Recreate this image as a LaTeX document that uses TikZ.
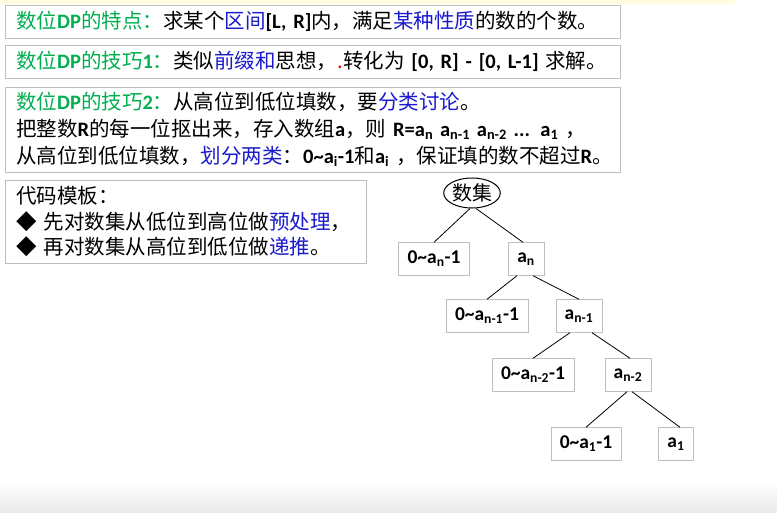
\documentclass[tikz,border=0pt]{standalone}
\usepackage{fontspec}
\setmainfont{Noto Sans CJK SC}
\newfontfamily\latinfont{Carlito}
\usepackage{xcolor}
\usepackage{tikz}
\usetikzlibrary{shapes.geometric}
\definecolor{titlegreen}{RGB}{0,176,80}
\definecolor{keyblue}{RGB}{25,25,205}
\definecolor{boxgray}{RGB}{190,190,190}
\newcommand{\en}[1]{{\latinfont\bfseries #1}}
\newcommand{\key}[1]{\textcolor{keyblue}{#1}}
\newcommand{\head}[1]{\textcolor{titlegreen}{#1}}

\begin{document}
\begin{tikzpicture}[x=1pt, y=-1pt,
  panel/.style={draw=boxgray, anchor=north west, inner xsep=11pt, inner ysep=0pt, align=left, font=\fontsize{20.5}{27}\selectfont},
  leaf/.style={draw=boxgray, rectangle, minimum height=33pt, inner xsep=9pt, font=\latinfont\bfseries\fontsize{19.5}{22}\selectfont},
  branch/.style={line width=0.8pt}]
  \useasboundingbox[fill=white] (0,0) rectangle (777,512);
  \fill[yellow!12] (0,0) rectangle (735,4);
  \shade[top color=white, bottom color=black!8] (0,482) rectangle (777,512);

  % text panels
  \node[panel, text width=593pt, minimum height=33pt] (feature) at (5,5) {\mbox{\head{数位\en{DP}的特点：}求某个\key{区间}\en{[L, R]}内，满足\key{某种性质}的数的个数。}};
  \node[panel, text width=593pt, minimum height=33pt] (trick1) at (5,45) {\mbox{\head{数位\en{DP}的技巧\en{1}：}类似\key{前缀和}思想，\textcolor{red}{.}转化为 \en{[0, R] - [0, L-1]} 求解。}};
  \node[panel, text width=593pt, minimum height=85pt] (trick2) at (5,87) {\mbox{\head{数位\en{DP}的技巧\en{2}：}从高位到低位填数，要\key{分类讨论}。}\\
    \mbox{把整数\en{R}的每一位抠出来，存入数组\en{a}，则 \en{R=a\textsubscript{n} a\textsubscript{n-1} a\textsubscript{n-2} ... a\textsubscript{1}} ，}\\
    \mbox{从高位到低位填数，\key{划分两类}：\en{0\textasciitilde a\textsubscript{i}-1}和\en{a\textsubscript{i}} ，保证填的数不超过\en{R}。}};
  \node[panel, text width=339pt, minimum height=83pt, font=\fontsize{20.5}{25.5}\selectfont] (template) at (5,180) {代码模板：\\
    \mbox{◆ 先对数集从低位到高位做\key{预处理}，}\\
    \mbox{◆ 再对数集从高位到低位做\key{递推}。}};

  % digit tree
  \node[ellipse, draw, line width=1pt, inner sep=0pt, minimum width=55pt, minimum height=30pt, font=\fontsize{20}{22}\selectfont] (digits) at (472,193) {数集};
  \node[leaf] (lowN) at (434,259) {0\textasciitilde a\textsubscript{n}-1};
  \node[leaf] (topN) at (526,259) {a\textsubscript{n}};
  \node[leaf] (lowN1) at (487,316) {0\textasciitilde a\textsubscript{n-1}-1};
  \node[leaf] (topN1) at (579,316) {a\textsubscript{n-1}};
  \node[leaf] (lowN2) at (533,375) {0\textasciitilde a\textsubscript{n-2}-1};
  \node[leaf] (topN2) at (628,375) {a\textsubscript{n-2}};
  \node[leaf] (lowOne) at (586,444) {0\textasciitilde a\textsubscript{1}-1};
  \node[leaf] (topOne) at (676,444) {a\textsubscript{1}};

  \draw[branch] ([xshift=-2pt]digits.south) -- (lowN.north);
  \draw[branch] ([xshift=4pt]digits.south) -- ([xshift=-3pt]topN.north);
  \draw[branch] ([xshift=-9pt]topN.south) -- (lowN1.north);
  \draw[branch] ([xshift=7pt]topN.south) -- (topN1.north);
  \draw[branch] ([xshift=-9pt]topN1.south) -- (lowN2.north);
  \draw[branch] ([xshift=13pt]topN1.south) -- ([xshift=2pt]topN2.north);
  \draw[branch] ([xshift=-1pt]topN2.south) -- (lowOne.north);
  \draw[branch] ([xshift=4pt]topN2.south) -- ([xshift=4pt]topOne.north);
\end{tikzpicture}
\end{document}
